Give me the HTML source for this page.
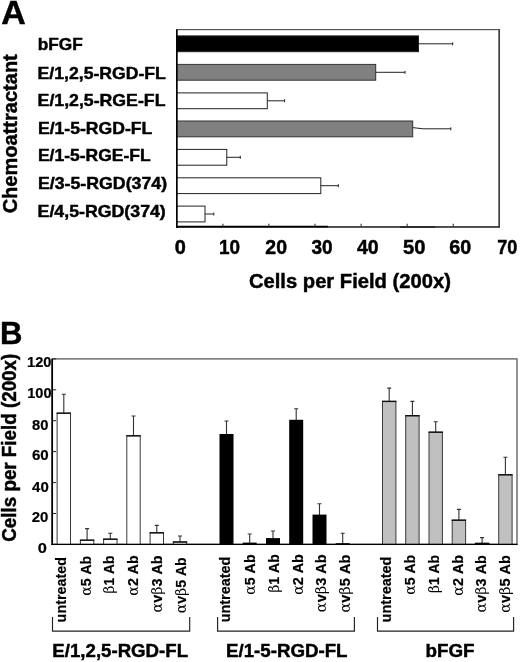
<!DOCTYPE html>
<html lang="en"><head><meta charset="utf-8"><title>Figure</title>
<style>html,body{margin:0;padding:0;background:#fff;overflow:hidden}svg{display:block}text{font-family:"Liberation Sans",Arial,Helvetica,sans-serif;font-weight:bold;fill:#000;stroke:#000;stroke-width:0.45px}.s{stroke-width:0.2px}.g{font-family:"DejaVu Serif","Liberation Serif",serif;font-weight:normal;stroke:none}</style></head><body>
<svg width="520" height="662" viewBox="0 0 520 662">
<rect width="520" height="662" fill="#fff"/>
<text x="1.37" y="23.8" font-size="33.2" textLength="24.51" lengthAdjust="spacingAndGlyphs">A</text>
<text transform="translate(17.3,213.36) rotate(-90)" font-size="20" textLength="159.15" lengthAdjust="spacingAndGlyphs">Chemoattractant</text>
<rect x="176.8" y="29.6" width="322.4" height="197.1" fill="#fff" stroke="#555" stroke-width="1.2"/>
<rect x="176.8" y="35.9" width="241.7" height="15.8" fill="#000" stroke="#222" stroke-width="1"/>
<path d="M418.5 43.8H452.7M452.7 42.3v3" stroke="#222" stroke-width="1" fill="none"/>
<text x="37.69" y="50.3" font-size="16.4" textLength="45.07" lengthAdjust="spacingAndGlyphs">bFGF</text>
<rect x="176.8" y="64.4" width="198.9" height="15.8" fill="#808080" stroke="#333" stroke-width="1"/>
<path d="M375.7 72.3H405M405 70.8v3" stroke="#222" stroke-width="1" fill="none"/>
<text x="37.64" y="79.2" font-size="16.4" textLength="128.17" lengthAdjust="spacingAndGlyphs">E/1,2,5-RGD-FL</text>
<rect x="176.8" y="92.9" width="90.5" height="15.8" fill="#fff" stroke="#222" stroke-width="1"/>
<path d="M267.3 100.8H284.6M284.6 99.3v3" stroke="#222" stroke-width="1" fill="none"/>
<text x="37.60" y="105.7" font-size="16.4" textLength="127.85" lengthAdjust="spacingAndGlyphs">E/1,2,5-RGE-FL</text>
<rect x="176.8" y="121.0" width="235.9" height="15.8" fill="#808080" stroke="#333" stroke-width="1"/>
<path d="M412.7 127.6L423 128.8H450.8M450.8 127.3v3" stroke="#222" stroke-width="1" fill="none"/>
<text x="37.92" y="133.8" font-size="16.4" textLength="114.42" lengthAdjust="spacingAndGlyphs">E/1-5-RGD-FL</text>
<rect x="176.8" y="149.4" width="50.0" height="15.8" fill="#fff" stroke="#222" stroke-width="1"/>
<path d="M226.8 157.3H240.3M240.3 155.8v3" stroke="#222" stroke-width="1" fill="none"/>
<text x="37.94" y="161.1" font-size="16.4" textLength="112.64" lengthAdjust="spacingAndGlyphs">E/1-5-RGE-FL</text>
<rect x="176.8" y="177.8" width="144.0" height="15.8" fill="#fff" stroke="#222" stroke-width="1"/>
<path d="M320.8 185.7H338.3M338.3 184.2v3" stroke="#222" stroke-width="1" fill="none"/>
<text x="37.92" y="188.8" font-size="16.4" textLength="129.15" lengthAdjust="spacingAndGlyphs">E/3-5-RGD(374)</text>
<rect x="176.8" y="206.1" width="28.2" height="15.8" fill="#fff" stroke="#222" stroke-width="1"/>
<path d="M205 214.0H213.8M213.8 212.5v3" stroke="#222" stroke-width="1" fill="none"/>
<text x="37.61" y="216.5" font-size="16.4" textLength="128.18" lengthAdjust="spacingAndGlyphs">E/4,5-RGD(374)</text>
<path d="M176.8 29.6V227.7" stroke="#000" stroke-width="1.6" fill="none"/>
<path d="M176.0 226.7H328" stroke="#000" stroke-width="2" fill="none"/>
<path d="M327 227.2H499.8" stroke="#333" stroke-width="1.2" fill="none"/>
<path d="M400 227.0H435" stroke="#222" stroke-width="1.6" fill="none"/>
<path d="M499.2 29.6V227.7" stroke="#333" stroke-width="1.3" fill="none"/>
<text x="174.87" y="254.2" font-size="19.6" textLength="11.09" lengthAdjust="spacingAndGlyphs">0</text>
<path d="M222.9 226.7v-3" stroke="#222" stroke-width="1"/>
<text x="218.90" y="254.2" font-size="19.6" textLength="21.07" lengthAdjust="spacingAndGlyphs">10</text>
<path d="M268.9 226.7v-3" stroke="#222" stroke-width="1"/>
<text x="265.35" y="254.2" font-size="19.6" textLength="21.72" lengthAdjust="spacingAndGlyphs">20</text>
<path d="M315.0 226.7v-3" stroke="#222" stroke-width="1"/>
<text x="311.47" y="254.2" font-size="19.6" textLength="21.21" lengthAdjust="spacingAndGlyphs">30</text>
<path d="M361.1 226.7v-3" stroke="#222" stroke-width="1"/>
<text x="356.96" y="254.2" font-size="19.6" textLength="21.73" lengthAdjust="spacingAndGlyphs">40</text>
<path d="M407.1 226.7v-3" stroke="#222" stroke-width="1"/>
<text x="403.10" y="254.2" font-size="19.6" textLength="22.47" lengthAdjust="spacingAndGlyphs">50</text>
<path d="M453.2 226.7v-3" stroke="#222" stroke-width="1"/>
<text x="449.26" y="254.2" font-size="19.6" textLength="21.92" lengthAdjust="spacingAndGlyphs">60</text>
<text x="497.24" y="254.2" font-size="19.6" textLength="20.13" lengthAdjust="spacingAndGlyphs">70</text>
<text x="248.96" y="288" font-size="19.7" textLength="201.94" lengthAdjust="spacingAndGlyphs">Cells per Field (200x)</text>
<text x="0.02" y="343.7" font-size="31.2" textLength="22.43" lengthAdjust="spacingAndGlyphs">B</text>
<text transform="translate(16.2,541.71) rotate(-90)" font-size="19.4" textLength="187.95" lengthAdjust="spacingAndGlyphs">Cells per Field (200x)</text>
<rect x="52.2" y="358.9" width="464.8" height="185.5" fill="#fff" stroke="#5a5a5a" stroke-width="1.3"/>
<path d="M52.2 544.4h4" stroke="#222" stroke-width="1"/>
<text class="s" x="37.65" y="553.1" font-size="14.2" textLength="9.14" lengthAdjust="spacingAndGlyphs">0</text>
<path d="M52.2 513.5h4" stroke="#222" stroke-width="1"/>
<text class="s" x="31.81" y="521.7" font-size="14.2" textLength="16.65" lengthAdjust="spacingAndGlyphs">20</text>
<path d="M52.2 482.6h4" stroke="#222" stroke-width="1"/>
<text class="s" x="32.11" y="491.6" font-size="14.2" textLength="16.66" lengthAdjust="spacingAndGlyphs">40</text>
<path d="M52.2 451.6h4" stroke="#222" stroke-width="1"/>
<text class="s" x="31.95" y="460" font-size="14.2" textLength="16.77" lengthAdjust="spacingAndGlyphs">60</text>
<path d="M52.2 420.7h4" stroke="#222" stroke-width="1"/>
<text class="s" x="31.97" y="429.6" font-size="14.2" textLength="16.41" lengthAdjust="spacingAndGlyphs">80</text>
<path d="M52.2 389.8h4" stroke="#222" stroke-width="1"/>
<text class="s" x="27.20" y="398" font-size="14.2" textLength="24.33" lengthAdjust="spacingAndGlyphs">100</text>
<path d="M52.2 358.9h4" stroke="#222" stroke-width="1"/>
<text class="s" x="27.00" y="366.7" font-size="14.2" textLength="24.41" lengthAdjust="spacingAndGlyphs">120</text>
<path d="M63.8 413.2V394.3M61.8 394.3h4" stroke="#333" stroke-width="1.1" fill="none"/>
<rect x="57.1" y="413.2" width="13.4" height="131.2" fill="#fff" stroke="#3a3a3a" stroke-width="1"/>
<path d="M56.6 413.2h14.4" stroke="#111" stroke-width="1.4" fill="none"/>
<path d="M87.1 540.2V528.6M85.1 528.6h4" stroke="#333" stroke-width="1.1" fill="none"/>
<rect x="80.4" y="540.2" width="13.4" height="4.2" fill="#fff" stroke="#3a3a3a" stroke-width="1"/>
<path d="M79.9 540.2h14.4" stroke="#111" stroke-width="1.4" fill="none"/>
<path d="M110.3 539.2V533.2M108.3 533.2h4" stroke="#333" stroke-width="1.1" fill="none"/>
<rect x="103.6" y="539.2" width="13.4" height="5.2" fill="#fff" stroke="#3a3a3a" stroke-width="1"/>
<path d="M103.1 539.2h14.4" stroke="#111" stroke-width="1.4" fill="none"/>
<path d="M133.5 435.8V416M131.5 416h4" stroke="#333" stroke-width="1.1" fill="none"/>
<rect x="126.8" y="435.8" width="13.4" height="108.6" fill="#fff" stroke="#3a3a3a" stroke-width="1"/>
<path d="M126.3 435.8h14.4" stroke="#111" stroke-width="1.4" fill="none"/>
<path d="M156.8 532.8V525.4M154.8 525.4h4" stroke="#333" stroke-width="1.1" fill="none"/>
<rect x="150.1" y="532.8" width="13.4" height="11.6" fill="#fff" stroke="#3a3a3a" stroke-width="1"/>
<path d="M149.6 532.8h14.4" stroke="#111" stroke-width="1.4" fill="none"/>
<path d="M180.0 542V536M178.0 536h4" stroke="#333" stroke-width="1.1" fill="none"/>
<rect x="173.3" y="542" width="13.4" height="2.4" fill="#fff" stroke="#3a3a3a" stroke-width="1"/>
<path d="M172.8 542h14.4" stroke="#111" stroke-width="1.4" fill="none"/>
<path d="M226.5 434.4V421M224.5 421h4" stroke="#333" stroke-width="1.1" fill="none"/>
<rect x="219.5" y="434.0" width="14.0" height="110.4" fill="#000"/>
<path d="M249.7 543V534M247.7 534h4" stroke="#333" stroke-width="1.1" fill="none"/>
<rect x="242.7" y="542.6" width="14.0" height="1.8" fill="#000"/>
<path d="M273.0 538.5V531M271.0 531h4" stroke="#333" stroke-width="1.1" fill="none"/>
<rect x="266.0" y="538.1" width="14.0" height="6.3" fill="#000"/>
<path d="M296.2 420.2V408.7M294.2 408.7h4" stroke="#333" stroke-width="1.1" fill="none"/>
<rect x="289.2" y="419.8" width="14.0" height="124.6" fill="#000"/>
<path d="M319.5 515V503.7M317.5 503.7h4" stroke="#333" stroke-width="1.1" fill="none"/>
<rect x="312.5" y="514.6" width="14.0" height="29.8" fill="#000"/>
<path d="M342.7 543.6V533.2M340.7 533.2h4" stroke="#333" stroke-width="1.1" fill="none"/>
<rect x="335.7" y="543.2" width="14.0" height="1.2" fill="#000"/>
<path d="M389.2 401.4V388.1M387.2 388.1h4" stroke="#333" stroke-width="1.1" fill="none"/>
<rect x="382.5" y="401.4" width="13.4" height="143.0" fill="#c0c0c0" stroke="#3a3a3a" stroke-width="1"/>
<path d="M382.0 401.4h14.4" stroke="#111" stroke-width="1.4" fill="none"/>
<path d="M412.4 415.7V401.4M410.4 401.4h4" stroke="#333" stroke-width="1.1" fill="none"/>
<rect x="405.7" y="415.7" width="13.4" height="128.7" fill="#c0c0c0" stroke="#3a3a3a" stroke-width="1"/>
<path d="M405.2 415.7h14.4" stroke="#111" stroke-width="1.4" fill="none"/>
<path d="M435.7 432.2V421.7M433.7 421.7h4" stroke="#333" stroke-width="1.1" fill="none"/>
<rect x="429.0" y="432.2" width="13.4" height="112.2" fill="#c0c0c0" stroke="#3a3a3a" stroke-width="1"/>
<path d="M428.5 432.2h14.4" stroke="#111" stroke-width="1.4" fill="none"/>
<path d="M458.9 520.2V509.4M456.9 509.4h4" stroke="#333" stroke-width="1.1" fill="none"/>
<rect x="452.2" y="520.2" width="13.4" height="24.2" fill="#c0c0c0" stroke="#3a3a3a" stroke-width="1"/>
<path d="M451.7 520.2h14.4" stroke="#111" stroke-width="1.4" fill="none"/>
<path d="M482.1 543.4V537.6M480.1 537.6h4" stroke="#333" stroke-width="1.1" fill="none"/>
<rect x="475.4" y="543.4" width="13.4" height="1.0" fill="#c0c0c0" stroke="#3a3a3a" stroke-width="1"/>
<path d="M474.9 543.4h14.4" stroke="#111" stroke-width="1.4" fill="none"/>
<path d="M505.4 474.8V457.3M503.4 457.3h4" stroke="#333" stroke-width="1.1" fill="none"/>
<rect x="498.7" y="474.8" width="13.4" height="69.6" fill="#c0c0c0" stroke="#3a3a3a" stroke-width="1"/>
<path d="M498.2 474.8h14.4" stroke="#111" stroke-width="1.4" fill="none"/>
<path d="M52.2 358.9V545.0" stroke="#000" stroke-width="1.7" fill="none"/>
<path d="M51.300000000000004 544.4H517.5" stroke="#000" stroke-width="1.3" fill="none"/>
<text class="s" transform="translate(66.1,622.38) rotate(-90)" font-size="14.2" textLength="65.37" lengthAdjust="spacingAndGlyphs">untreated</text>
<text class="s" transform="translate(90.5,595.87) rotate(-90)" font-size="14.2" textLength="40.07" lengthAdjust="spacingAndGlyphs"><tspan class="g">α</tspan>5 Ab</text>
<text class="s" transform="translate(114.1,593.39) rotate(-90)" font-size="14.2" textLength="37.89" lengthAdjust="spacingAndGlyphs"><tspan class="g">β</tspan>1 Ab</text>
<text class="s" transform="translate(138,595.65) rotate(-90)" font-size="14.2" textLength="40.22" lengthAdjust="spacingAndGlyphs"><tspan class="g">α</tspan>2 Ab</text>
<text class="s" transform="translate(162,612.48) rotate(-90)" font-size="14.2" textLength="57.02" lengthAdjust="spacingAndGlyphs"><tspan class="g">α</tspan>v<tspan class="g">β</tspan>3 Ab</text>
<text class="s" transform="translate(186.4,613.34) rotate(-90)" font-size="14.2" textLength="56.04" lengthAdjust="spacingAndGlyphs"><tspan class="g">α</tspan>v<tspan class="g">β</tspan>5 Ab</text>
<text class="s" transform="translate(230.4,622.28) rotate(-90)" font-size="14.2" textLength="65.58" lengthAdjust="spacingAndGlyphs">untreated</text>
<text class="s" transform="translate(255,594.85) rotate(-90)" font-size="14.2" textLength="40.45" lengthAdjust="spacingAndGlyphs"><tspan class="g">α</tspan>5 Ab</text>
<text class="s" transform="translate(279.1,592.77) rotate(-90)" font-size="14.2" textLength="38.55" lengthAdjust="spacingAndGlyphs"><tspan class="g">β</tspan>1 Ab</text>
<text class="s" transform="translate(303,594.86) rotate(-90)" font-size="14.2" textLength="40.67" lengthAdjust="spacingAndGlyphs"><tspan class="g">α</tspan>2 Ab</text>
<text class="s" transform="translate(325.8,612.16) rotate(-90)" font-size="14.2" textLength="57.82" lengthAdjust="spacingAndGlyphs"><tspan class="g">α</tspan>v<tspan class="g">β</tspan>3 Ab</text>
<text class="s" transform="translate(350.2,612.57) rotate(-90)" font-size="14.2" textLength="57.91" lengthAdjust="spacingAndGlyphs"><tspan class="g">α</tspan>v<tspan class="g">β</tspan>5 Ab</text>
<text class="s" transform="translate(390.6,622.40) rotate(-90)" font-size="14.2" textLength="65.75" lengthAdjust="spacingAndGlyphs">untreated</text>
<text class="s" transform="translate(415.1,594.86) rotate(-90)" font-size="14.2" textLength="40.10" lengthAdjust="spacingAndGlyphs"><tspan class="g">α</tspan>5 Ab</text>
<text class="s" transform="translate(439.4,592.89) rotate(-90)" font-size="14.2" textLength="37.93" lengthAdjust="spacingAndGlyphs"><tspan class="g">β</tspan>1 Ab</text>
<text class="s" transform="translate(463.2,595.64) rotate(-90)" font-size="14.2" textLength="40.69" lengthAdjust="spacingAndGlyphs"><tspan class="g">α</tspan>2 Ab</text>
<text class="s" transform="translate(486.3,612.57) rotate(-90)" font-size="14.2" textLength="57.47" lengthAdjust="spacingAndGlyphs"><tspan class="g">α</tspan>v<tspan class="g">β</tspan>3 Ab</text>
<text class="s" transform="translate(510.3,612.75) rotate(-90)" font-size="14.2" textLength="57.74" lengthAdjust="spacingAndGlyphs"><tspan class="g">α</tspan>v<tspan class="g">β</tspan>5 Ab</text>
<path d="M52.5 617V631.1H189.7V617" stroke="#222" stroke-width="1.15" fill="none"/>
<path d="M217.6 617V631.1H354.4V617" stroke="#222" stroke-width="1.15" fill="none"/>
<path d="M377.5 617V631.1H513.6V617" stroke="#222" stroke-width="1.15" fill="none"/>
<text x="52.37" y="656.5" font-size="18.5" textLength="135.67" lengthAdjust="spacingAndGlyphs">E/1,2,5-RGD-FL</text>
<text x="226.04" y="656.5" font-size="18.5" textLength="121.51" lengthAdjust="spacingAndGlyphs">E/1-5-RGD-FL</text>
<text x="425.56" y="656.7" font-size="18.5" textLength="49.06" lengthAdjust="spacingAndGlyphs">bFGF</text>
</svg></body></html>
